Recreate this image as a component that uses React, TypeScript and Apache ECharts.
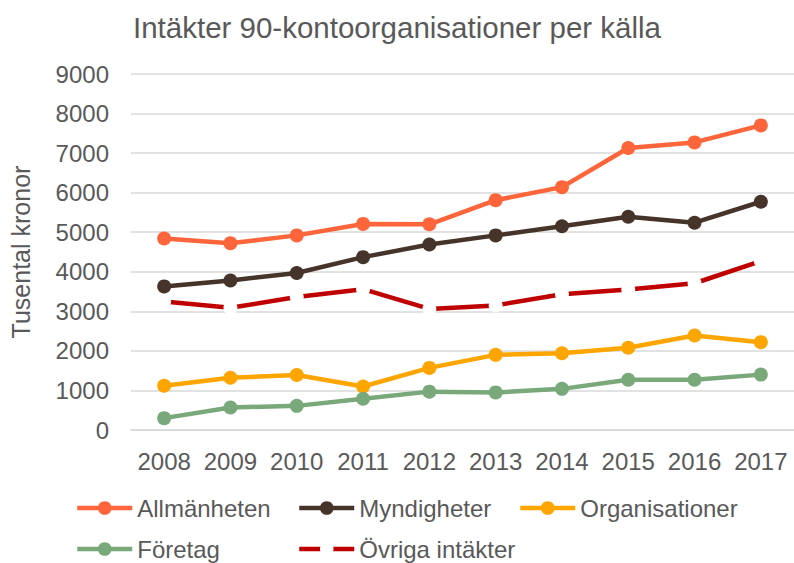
import React, { useEffect, useRef } from "react";
import * as echarts from "echarts";

const years = ["2008", "2009", "2010", "2011", "2012", "2013", "2014", "2015", "2016", "2017"];
const allmanheten = [4840, 4720, 4920, 5210, 5200, 5810, 6140, 7130, 7270, 7700];
const myndigheter = [3630, 3780, 3970, 4370, 4690, 4920, 5150, 5390, 5240, 5770];
const organisationer = [1120, 1320, 1390, 1100, 1570, 1900, 1940, 2080, 2390, 2220];
const foretag = [300, 570, 610, 790, 970, 950, 1040, 1270, 1270, 1400];
const ovriga = [3250, 3090, 3360, 3560, 3060, 3150, 3430, 3550, 3710, 4270];

const TXT = "#595959";
const FONT = "Liberation Sans, Arial, sans-serif";

export default function App() {
  const ref = useRef<HTMLDivElement>(null);
  useEffect(() => {
    if (!ref.current) return;
    const chart = echarts.init(ref.current, undefined, { renderer: "svg" });
    const mk = (name: string, data: number[], color: string, symbolColor?: string) => ({
      name,
      type: "line",
      data,
      symbol: "circle",
      symbolSize: 14,
      lineStyle: { color, width: 4.5 },
      itemStyle: { color: symbolColor || color, borderWidth: 0 },
    });
    const legendCommon = {
      orient: "vertical",
      padding: 0,
      itemWidth: 55,
      itemHeight: 17,
      itemGap: 17,
      height: 70,
      lineStyle: { width: 4.5 },
      itemStyle: { borderWidth: 0 },
      textStyle: { color: TXT, fontSize: 24, fontFamily: FONT, lineHeight: 24 },
    };
    chart.setOption({
      animation: false,
      backgroundColor: "#ffffff",
      textStyle: { fontFamily: FONT },
      title: {
        text: "Intäkter 90-kontoorganisationer per källa",
        left: "center",
        top: 6,
        textStyle: { color: TXT, fontSize: 29.5, fontWeight: "normal", fontFamily: FONT, lineHeight: 32 },
      },
      legend: [
        { ...legendCommon, left: 75, top: 496, data: ["Allmänheten", "Företag"] },
        { ...legendCommon, left: 297, top: 496, data: ["Myndigheter", "Övriga intäkter"] },
        { ...legendCommon, left: 518, top: 496, data: ["Organisationer"] },
      ],
      grid: { left: 122, width: 674, top: 74, height: 356 },
      xAxis: {
        type: "category",
        data: years,
        boundaryGap: true,
        axisTick: { show: false },
        axisLine: { lineStyle: { color: "#D9D9D9", width: 1.5 } },
        axisLabel: { color: TXT, fontSize: 24, fontFamily: FONT, margin: 19, interval: 0 },
      },
      yAxis: {
        type: "value",
        min: 0,
        max: 9000,
        interval: 1000,
        name: "Tusental kronor",
        nameLocation: "middle",
        nameGap: 98,
        nameTextStyle: { color: TXT, fontSize: 25, fontFamily: FONT },
        axisLine: { show: false },
        axisTick: { show: false },
        axisLabel: {
          color: TXT,
          fontSize: 24,
          fontFamily: FONT,
          margin: 22,
          formatter: (v: number) => String(v),
        },
        splitLine: { lineStyle: { color: "#D9D9D9", width: 1.5 } },
      },
      series: [
        mk("Allmänheten", allmanheten, "#FF653A"),
        mk("Myndigheter", myndigheter, "#46342A"),
        mk("Organisationer", organisationer, "#FFA500"),
        mk("Företag", foretag, "#79A87B"),
        mk("Övriga intäkter", ovriga, "#C00000", "#FFFFFF"),
      ],
    });
    return () => chart.dispose();
  }, []);
  return <div ref={ref} style={{ position: "absolute", left: 0, top: 0, width: 794, height: 563 }} />;
}
